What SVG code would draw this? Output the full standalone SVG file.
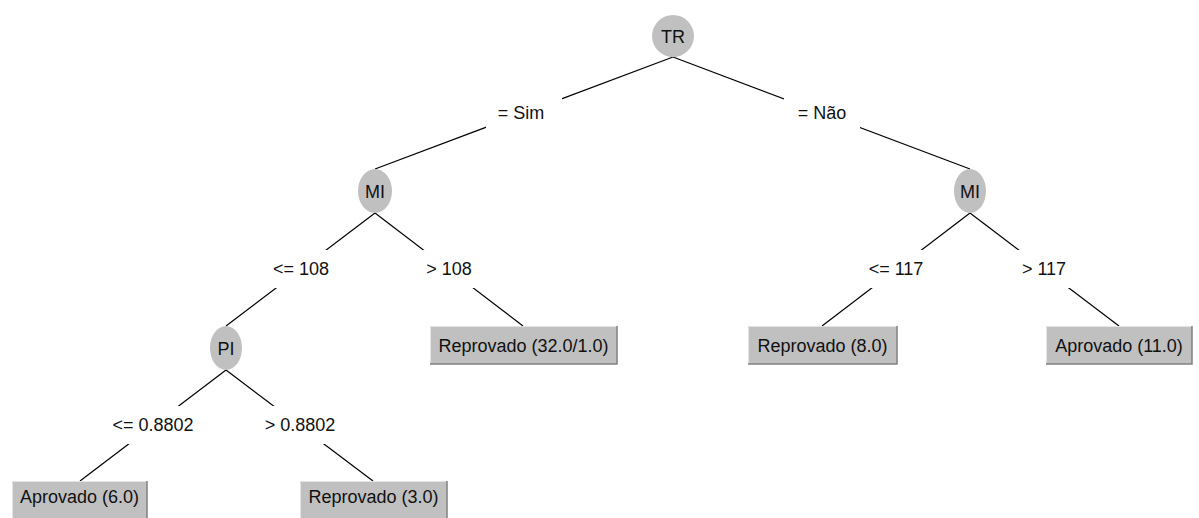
<svg xmlns="http://www.w3.org/2000/svg" width="1199" height="518" viewBox="0 0 1199 518">
  <style>
    .edge { stroke: #000; stroke-width: 1.2; fill: none; }
    .lbg { fill: #fff; }
    .lbl { font-family: "Liberation Sans", Arial, sans-serif; font-size: 18px; fill: #111; text-anchor: middle; }
    .split { fill: #c0c0c0; }
    .leaf rect.body { fill: #c0c0c0; }
    .hi { stroke: #e4e4e4; stroke-width: 1; fill: none; }
    .lo { stroke: #808080; stroke-width: 1.5; fill: none; }
  </style>
  <rect width="1199" height="518" fill="#fff"/>

  <!-- connectors, with label plates drawn over them -->
  <g id="connectors">
    <line class="edge" x1="673" y1="57" x2="375" y2="169"/>
    <line class="edge" x1="673" y1="57" x2="970" y2="169"/>
    <line class="edge" x1="375" y1="213" x2="226" y2="326"/>
    <line class="edge" x1="375" y1="213" x2="523" y2="326"/>
    <line class="edge" x1="970" y1="213" x2="822" y2="326"/>
    <line class="edge" x1="970" y1="213" x2="1119" y2="326"/>
    <line class="edge" x1="226" y1="370" x2="80" y2="481"/>
    <line class="edge" x1="226" y1="370" x2="373" y2="481"/>

    <rect class="lbg" x="486" y="94" width="76" height="38"/>
    <text class="lbl" x="521" y="119">= Sim</text>
    <rect class="lbg" x="784" y="94" width="76" height="38"/>
    <text class="lbl" x="822" y="119">= Não</text>
    <rect class="lbg" x="262" y="250" width="78" height="38"/>
    <text class="lbl" x="301" y="275">&lt;= 108</text>
    <rect class="lbg" x="416" y="250" width="66" height="38"/>
    <text class="lbl" x="449" y="275">&gt; 108</text>
    <rect class="lbg" x="857" y="250" width="78" height="38"/>
    <text class="lbl" x="896" y="275">&lt;= 117</text>
    <rect class="lbg" x="1011" y="250" width="66" height="38"/>
    <text class="lbl" x="1044" y="275">&gt; 117</text>
    <rect class="lbg" x="103" y="406" width="100" height="38"/>
    <text class="lbl" x="153" y="431">&lt;= 0.8802</text>
    <rect class="lbg" x="255" y="406" width="90" height="38"/>
    <text class="lbl" x="300" y="431">&gt; 0.8802</text>
  </g>

  <!-- split nodes -->
  <g id="node-tr">
    <ellipse class="split" cx="673" cy="36" rx="21" ry="21"/>
    <text class="lbl" x="673" y="43">TR</text>
  </g>
  <g id="node-mi-left">
    <ellipse class="split" cx="375" cy="191" rx="17" ry="22"/>
    <text class="lbl" x="375" y="198">MI</text>
  </g>
  <g id="node-mi-right">
    <ellipse class="split" cx="970" cy="191" rx="16" ry="22"/>
    <text class="lbl" x="970" y="198">MI</text>
  </g>
  <g id="node-pi">
    <ellipse class="split" cx="226" cy="348" rx="16" ry="22"/>
    <text class="lbl" x="226" y="355">PI</text>
  </g>

  <!-- leaf nodes -->
  <g id="leaf-reprovado-32" class="leaf">
    <rect class="body" x="430" y="326" width="187" height="38"/>
    <path class="hi" d="M430.5 364 V326.5 H617"/>
    <path class="lo" d="M617 326 V364 H430"/>
    <text class="lbl" x="523.5" y="352">Reprovado (32.0/1.0)</text>
  </g>
  <g id="leaf-reprovado-8" class="leaf">
    <rect class="body" x="748" y="326" width="149" height="38"/>
    <path class="hi" d="M748.5 364 V326.5 H897"/>
    <path class="lo" d="M897 326 V364 H748"/>
    <text class="lbl" x="822.5" y="352">Reprovado (8.0)</text>
  </g>
  <g id="leaf-aprovado-11" class="leaf">
    <rect class="body" x="1046" y="326" width="146" height="38"/>
    <path class="hi" d="M1046.5 364 V326.5 H1192"/>
    <path class="lo" d="M1192 326 V364 H1046"/>
    <text class="lbl" x="1119" y="352">Aprovado (11.0)</text>
  </g>
  <g id="leaf-aprovado-6" class="leaf">
    <rect class="body" x="12" y="481" width="135" height="38"/>
    <path class="hi" d="M12.5 519 V481.5 H147"/>
    <path class="lo" d="M147 481 V519"/>
    <text class="lbl" x="79.5" y="503">Aprovado (6.0)</text>
  </g>
  <g id="leaf-reprovado-3" class="leaf">
    <rect class="body" x="300" y="481" width="147" height="38"/>
    <path class="hi" d="M300.5 519 V481.5 H447"/>
    <path class="lo" d="M447 481 V519"/>
    <text class="lbl" x="373.5" y="503">Reprovado (3.0)</text>
  </g>
</svg>
